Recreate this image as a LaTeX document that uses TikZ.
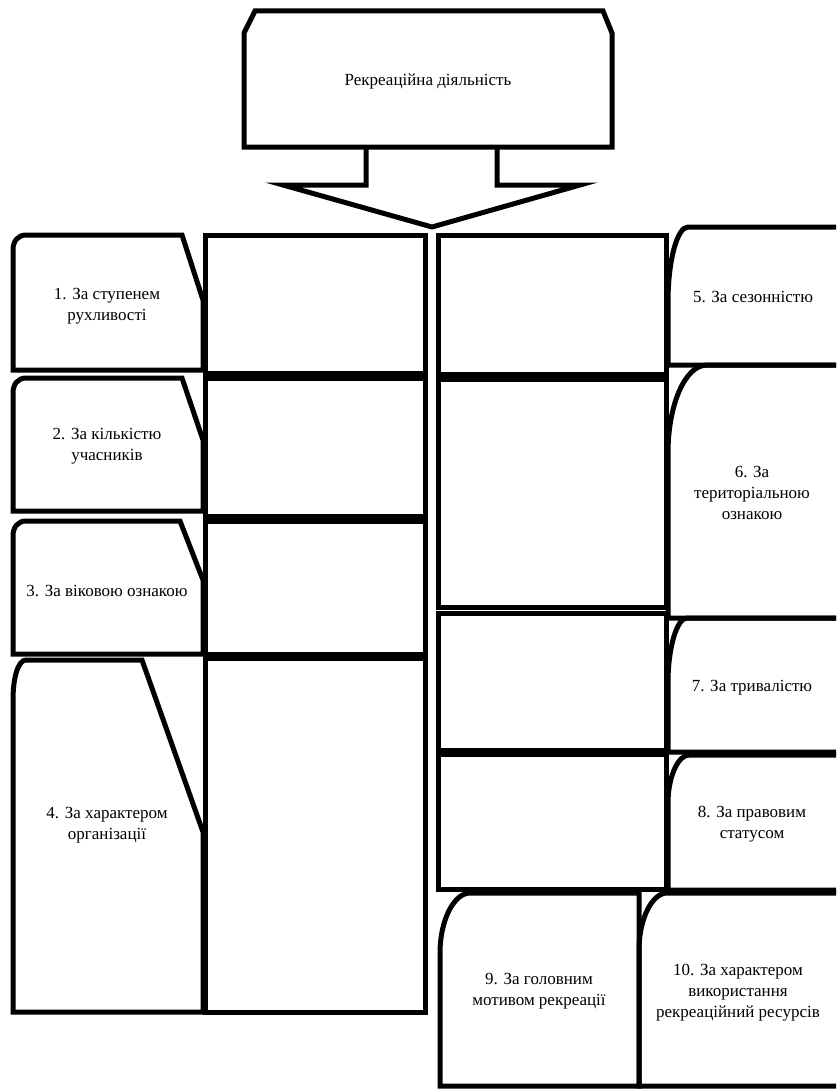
\documentclass[tikz,border=0pt]{standalone}
\usepackage{fontspec}
\setmainfont{Liberation Serif}

\begin{document}
\begin{tikzpicture}[x=1pt, y=-1pt,
  shp/.style={draw=black, line width=5pt},
  cell/.style={draw=black, line width=5pt},
  lbl/.style={font=\fontsize{17}{21}\selectfont, align=center, inner sep=0pt}
]
\useasboundingbox (0,0) rectangle (836,1089);
\clip (0,0) rectangle (836,1089);
% head block and its arrow
\draw[shp] (255,11) -- (603,11) -- (612,33) -- (612,147) -- (244,147) -- (244,33) -- cycle;
\node[lbl] (head) at (428,81) {Рекреаційна діяльність};
\draw[shp] (366,147) -- (366,185) -- (283,185) -- (432,227) -- (580,185) -- (497,185) -- (497,147);
% left side: snipped labels
\draw[shp] (13,250) .. controls (13,241) and (18,235) .. (26,235) -- (182,235) -- (203,300) -- (203,370) -- (13,370) -- cycle;
\draw[shp] (13,393) .. controls (13,384) and (18,378) .. (26,378) -- (182,378) -- (203,440) -- (203,511) -- (13,511) -- cycle;
\draw[shp] (13,536) .. controls (13,527) and (18,521) .. (26,521) -- (180,521) -- (203,580) -- (203,654) -- (13,654) -- cycle;
\draw[shp] (13,700) .. controls (13,678) and (18,660) .. (26,660) -- (142,660) -- (203,832) -- (203,1012) -- (13,1012) -- cycle;
\node[lbl] (c1) at (107,306) {1. За ступенем\\рухливості};
\node[lbl] (c2) at (107,446) {2. За кількістю\\учасників};
\node[lbl] (c3) at (107,591) {3. За віковою ознакою};
\node[lbl] (c4) at (107,825) {4. За характером\\організації};
% left side: empty cells
\draw[cell] (205,235) rectangle (425,373);
\draw[cell] (205,378) rectangle (425,516);
\draw[cell] (205,521) rectangle (425,654);
\draw[cell] (205,658) rectangle (425,1012);
% right side: empty cells
\draw[cell] (438,235) rectangle (666,374);
\draw[cell] (438,379) rectangle (666,607);
\draw[cell] (438,613) rectangle (666,750);
\draw[cell] (438,754) rectangle (666,889);
% right side: rounded labels
\draw[shp] (668,302) .. controls (668,261) and (677,227) .. (688,227) -- (860,227) -- (860,365) -- (668,365) -- cycle;
\draw[shp] (668,453) .. controls (668,405) and (685,365) .. (707,365) -- (860,365) -- (860,618) -- (668,618) -- cycle;
\draw[shp] (668,683) .. controls (668,647) and (677,618) .. (687,618) -- (860,618) -- (860,752) -- (668,752) -- cycle;
\draw[shp] (668,803) .. controls (668,777) and (678,755) .. (689,755) -- (860,755) -- (860,890) -- (668,890) -- cycle;
\draw[shp] (440,953) .. controls (440,920) and (454,893) .. (470,893) -- (639,893) -- (639,1086) -- (440,1086) -- cycle;
\draw[shp] (639,950) .. controls (639,919) and (652,893) .. (667,893) -- (860,893) -- (860,1086) -- (639,1086) -- cycle;
\node[lbl] (c5) at (753,297) {5. За сезонністю};
\node[lbl] (c6) at (752,493) {6. За\\територіальною\\ознакою};
\node[lbl] (c7) at (752,688) {7. За тривалістю};
\node[lbl] (c8) at (752,824) {8. За правовим\\статусом};
\node[lbl] (c9) at (539,991) {9. За головним\\мотивом рекреації};
\node[lbl] (c10) at (738,993) {10. За характером\\використання\\рекреаційний ресурсів};
\end{tikzpicture}
\end{document}
